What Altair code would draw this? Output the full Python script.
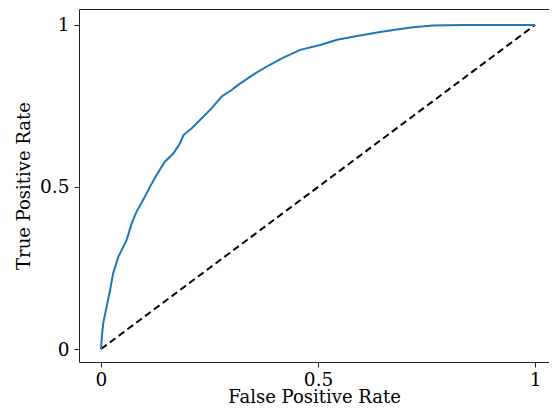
import altair as alt
import pandas as pd

# ROC curve points
fpr = [0.0, 0.0, 0.002, 0.005, 0.013, 0.021, 0.028, 0.040, 0.059, 0.071, 0.082,
       0.101, 0.117, 0.128, 0.147, 0.167, 0.182, 0.190, 0.209, 0.232, 0.255,
       0.278, 0.301, 0.316, 0.350, 0.389, 0.419, 0.459, 0.505, 0.544, 0.590,
       0.643, 0.689, 0.719, 0.765, 0.834, 0.912, 1.0]
tpr = [0.0, 0.002, 0.038, 0.079, 0.131, 0.182, 0.234, 0.285, 0.336, 0.389, 0.424,
       0.470, 0.511, 0.537, 0.578, 0.604, 0.635, 0.660, 0.681, 0.712, 0.743,
       0.779, 0.799, 0.815, 0.846, 0.877, 0.898, 0.923, 0.938, 0.954, 0.966,
       0.978, 0.987, 0.993, 0.998, 1.0, 1.0, 1.0]

diag_x = [0.0, 1.0]
diag_y = [0.0, 1.0]

tick_values = [0, 0.5, 1]

roc = pd.DataFrame({"fpr": fpr, "tpr": tpr, "i": range(len(fpr))})
diag = pd.DataFrame({"fpr": diag_x, "tpr": diag_y, "i": range(len(diag_x))})

xscale = alt.Scale(domain=[-0.0507, 1.032], nice=False, zero=False)
yscale = alt.Scale(domain=[-0.040, 1.049], nice=False, zero=False)

xaxis = alt.Axis(title="False Positive Rate", values=tick_values, format="~g",
                 grid=False, domain=False, tickSize=5, labelPadding=3,
                 titlePadding=0)
yaxis = alt.Axis(title="True Positive Rate", values=tick_values, format="~g",
                 grid=False, domain=False, tickSize=5, labelPadding=5,
                 titlePadding=6)

line = alt.Chart(roc).mark_line(color="#1f77b4", strokeWidth=2).encode(
    x=alt.X("fpr:Q", scale=xscale, axis=xaxis),
    y=alt.Y("tpr:Q", scale=yscale, axis=yaxis),
    order="i:Q",
)

dashed = alt.Chart(diag).mark_line(color="black", strokeWidth=2,
                                   strokeDash=[7, 4]).encode(
    x=alt.X("fpr:Q", scale=xscale),
    y=alt.Y("tpr:Q", scale=yscale),
    order="i:Q",
)

chart = (
    alt.layer(dashed, line)
    .properties(
        width=470,
        height=353,
        autosize=alt.AutoSizeParams(type="none"),
        padding={"left": 71, "top": 1, "right": 0, "bottom": 46},
    )
    .configure_view(stroke="#222222", strokeWidth=1)
    .configure_axis(
        labelFont="DejaVu Serif",
        titleFont="DejaVu Serif",
        labelFontSize=18.5,
        titleFontSize=18,
        titleFontWeight="normal",
        labelColor="black",
        titleColor="black",
        tickColor="#222222",
        tickWidth=1,
    )
)

chart.save("out.html", embed_options={"renderer": "svg", "actions": False})
